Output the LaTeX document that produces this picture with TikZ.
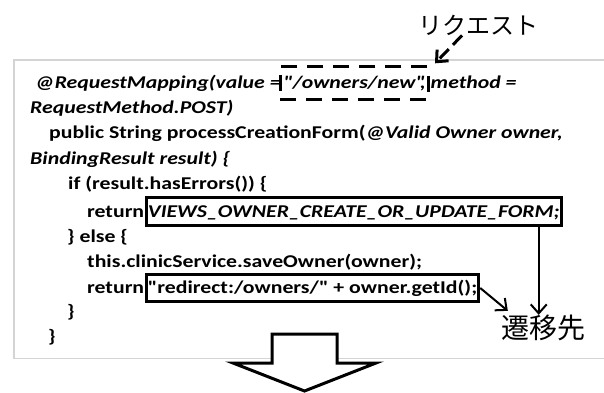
\documentclass[tikz,border=0pt]{standalone}
\usepackage{fontspec}
\setmainfont{Carlito}[FakeStretch=1.21, Ligatures=TeXOff]
\newfontfamily\jpfont{Noto Sans CJK JP}
\usetikzlibrary{arrows.meta, positioning}
\definecolor{frm}{HTML}{D4D4D4}
\tikzset{
  code/.style  = {anchor=base west, inner sep=0pt,
                  font=\fontsize{18}{18}\selectfont\bfseries},
  hit/.style   = {draw, line width=3pt, anchor=base west, inner xsep=1.5pt,
                  inner ysep=5.7pt, text height=13.5pt, text depth=2.5pt,
                  font=\fontsize{18}{18}\selectfont\bfseries},
  req/.style   = {draw, line width=3pt, dash pattern=on 16pt off 10pt,
                  anchor=base west, minimum width=137pt, inner ysep=8.2pt,
                  text height=13.5pt, text depth=2.5pt,
                  font=\fontsize{18}{18}\selectfont\bfseries\itshape},
  note/.style  = {inner sep=0pt, font=\fontsize{24}{24}\selectfont\jpfont},
  arr/.style   = {-{Straight Barb[length=9pt, width=16pt]}, line width=2pt},
  darr/.style  = {-{Straight Barb[length=9pt, width=16pt]}, line width=3pt,
                  dash pattern=on 13pt off 6pt},
}

\begin{document}
\begin{tikzpicture}[x=1pt, y=-1pt]
  \useasboundingbox (0,0) rectangle (604,392);
  \fill[white] (0,0) rectangle (604,392);

  % code panel
  \draw[frm, line width=1.5pt] (620,60) -- (14,60) -- (14,358.5) -- (620,358.5);

  \node[code] (l1) at (35,88.5) {\itshape @RequestMapping(value =};
  \node[req] (req) at (278.5,88.5) {"/owners/new"};
  \node[code] (l1b) at (420,88.5) {\itshape , method =};
  \node[code] (l2) at (30,113.5) {\itshape RequestMethod.POST)};
  \node[code] (l3) at (49,138.5) {public String processCreationForm(\textit{@Valid Owner owner,}};
  \node[code] (l4) at (30,164) {\itshape BindingResult result) \{};
  \node[code] (l5) at (68,189.5) {if (result.hasErrors()) \{};
  \node[code] (l6) at (87,217) {return};
  \node[hit] (views) at ([xshift=0.5pt]l6.base east) {\itshape VIEWS\_OWNER\_CREATE\_OR\_UPDATE\_FORM;};
  \node[code] (l7) at (67,242) {\} else \{};
  \node[code] (l8) at (87,267.5) {this.clinicService.saveOwner(owner);};
  \node[code] (l9) at (87,293.5) {return};
  \node[hit] (redir) at ([xshift=0.5pt]l9.base east) {"redirect:/owners/" + owner.getId();};
  \node[code] (l10) at (67,317.5) {\}};
  \node[code] (l11) at (48,342) {\}};

  % labels
  \node[note] (reqlbl) at (478,25) {リクエスト};
  \node[note, font=\fontsize{28}{28}\selectfont\jpfont] (dest) at (543,328) {遷移先};

  \draw[darr] ([xshift=-16pt]reqlbl.south) -- ([xshift=5pt, yshift=2pt]req.north east);
  \draw[arr] ([xshift=-24pt]views.south east) -- ([xshift=-24pt]views.south east |- dest.north);
  \draw[arr] (redir.east) -- ([xshift=7pt, yshift=4pt]dest.north west);

  % hollow arrow below the panel
  \draw[line width=3pt, fill=white] (272,334) -- (337,334) -- (337,363) -- (376,363)
    -- (304.5,391) -- (233,363) -- (272,363) -- cycle;
\end{tikzpicture}
\end{document}
